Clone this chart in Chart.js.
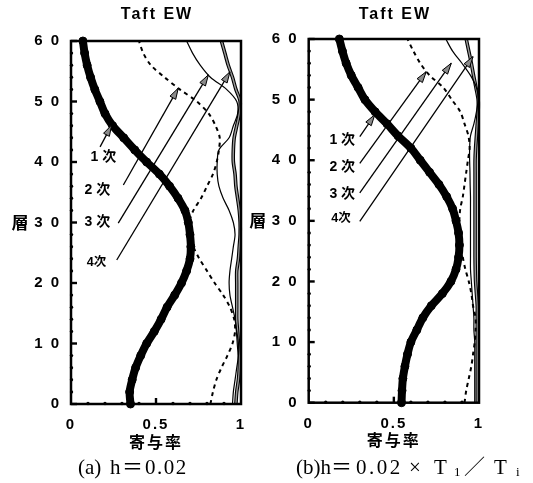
<!DOCTYPE html>
<html><head><meta charset="utf-8">
<script src="https://cdn.jsdelivr.net/npm/chart.js@4.4.1/dist/chart.umd.min.js"></script>
<style>
html,body{margin:0;padding:0;background:#fff;}
#wrap{position:relative;width:533px;height:483px;overflow:hidden;background:#fff;}
canvas{position:absolute;top:0;}
#ca{left:0;} #cb{left:245px;}
</style></head><body>
<div id="wrap"><canvas id="ca" width="250" height="483"></canvas><canvas id="cb" width="288" height="483"></canvas></div>
<script>
// ---------- data ----------
const layers = [0,2,4,6,8,10,12,14,16,18,20,22,24,26,28,30,32,34,36,38,40,42,44,46,48,50,52,54,56,58,60];
const yTickLabels = ['0','1 0','2 0','3 0','4 0','5 0','6 0'];
const xTickLabels = ['0','0.5','1'];
const modeLabels = ['1 次','2 次','3 次','4次'];

// (a) h = 0.02  : cumulative contribution up to mode 1..4
const mode1A = [0.35,0.345,0.36,0.38,0.41,0.445,0.49,0.53,0.565,0.61,0.65,0.68,0.70,0.705,0.70,0.69,0.67,0.63,0.58,0.52,0.445,0.375,0.31,0.245,0.20,0.17,0.14,0.115,0.095,0.08,0.07];
const mode2A = [0.82,0.835,0.855,0.885,0.92,0.95,0.965,0.96,0.935,0.895,0.845,0.80,0.755,0.72,0.70,0.695,0.72,0.765,0.80,0.835,0.857,0.87,0.875,0.85,0.81,0.74,0.64,0.55,0.47,0.425,0.40];
const mode3A = [0.95,0.955,0.965,0.975,0.985,0.985,0.975,0.965,0.95,0.935,0.93,0.935,0.945,0.955,0.965,0.955,0.93,0.895,0.87,0.86,0.86,0.87,0.93,0.955,0.98,0.975,0.915,0.82,0.76,0.715,0.68];
const mode4A = [0.97,0.975,0.985,0.99,0.99,0.985,0.98,0.975,0.975,0.975,0.975,0.975,0.985,0.99,0.995,0.995,0.99,0.98,0.97,0.965,0.955,0.955,0.96,0.975,0.99,0.995,0.97,0.95,0.925,0.905,0.885];

// (b) h = 0.02 x T1/Ti
const mode1B = [0.545,0.548,0.553,0.565,0.58,0.60,0.635,0.67,0.72,0.785,0.835,0.865,0.88,0.885,0.88,0.865,0.845,0.81,0.765,0.71,0.655,0.60,0.525,0.46,0.39,0.33,0.29,0.25,0.22,0.198,0.18];
const mode2B = [0.915,0.925,0.94,0.955,0.965,0.975,0.98,0.98,0.965,0.955,0.94,0.92,0.905,0.895,0.89,0.885,0.89,0.905,0.915,0.925,0.935,0.945,0.938,0.915,0.89,0.84,0.79,0.71,0.655,0.615,0.58];
const mode3B = [0.975,0.975,0.975,0.975,0.975,0.975,0.97,0.97,0.965,0.96,0.955,0.95,0.95,0.95,0.95,0.95,0.95,0.95,0.948,0.947,0.945,0.945,0.95,0.97,0.985,0.995,0.985,0.95,0.90,0.845,0.805];
const mode4B = [0.99,0.99,0.99,0.99,0.99,0.99,0.99,0.99,0.99,0.985,0.98,0.978,0.977,0.977,0.977,0.977,0.977,0.977,0.977,0.977,0.977,0.98,0.985,0.99,0.995,0.995,0.982,0.968,0.955,0.94,0.925];

// annotation arrows (data coords: [contribution, layer])
const arrowTailA = [[0.171,42.5],[0.308,36.2],[0.278,29.9],[0.269,23.8]];
const arrowHeadA = [[0.239,46.1],[0.631,52.2],[0.808,54.4],[0.935,54.9]];
const labelPosA  = [[0.19,40.8],[0.155,35.4],[0.155,30.1],[0.15,23.3]];
const arrowTailB = [[0.30,43.9],[0.30,39.5],[0.30,34.6],[0.30,29.9]];
const arrowHeadB = [[0.388,47.5],[0.69,54.6],[0.837,56.0],[0.965,57.1]];
const labelPosB  = [[0.197,43.3],[0.197,38.9],[0.197,34.4],[0.19,30.4]];

// ---------- helpers ----------
const pts = vals => vals.map((v,i)=>({x:v, y:layers[i]}));

function drawArrow(ctx,x1,y1,x2,y2){
  ctx.beginPath(); ctx.moveTo(x1,y1); ctx.lineTo(x2,y2);
  ctx.lineWidth=1.3; ctx.strokeStyle='#000'; ctx.stroke();
  const a=Math.atan2(y2-y1,x2-x1), L=11, W=3.3;
  const bx=x2-L*Math.cos(a), by=y2-L*Math.sin(a);
  const px=-Math.sin(a)*W, py=Math.cos(a)*W;
  ctx.beginPath(); ctx.moveTo(x2,y2); ctx.lineTo(bx+px,by+py); ctx.lineTo(bx-px,by-py); ctx.closePath();
  ctx.fillStyle='#8a8a8a'; ctx.fill(); ctx.lineWidth=1; ctx.stroke();
}

const overlay = {
  id:'overlay',
  beforeDraw(chart){ chart.ctx.letterSpacing='2px'; },
  beforeDatasetsDraw(chart){ chart.ctx.letterSpacing='0px'; },
  afterDatasetsDraw(chart, args, o){
    const ctx=chart.ctx, ca=chart.chartArea, xs=chart.scales.x, ys=chart.scales.y;
    ctx.save();
    ctx.letterSpacing='0px';
    // frame
    ctx.strokeStyle='#000'; ctx.lineWidth=2.5;
    ctx.strokeRect(ca.left, ca.top, ca.right-ca.left, ca.bottom-ca.top);
    // inner ticks (major) and small dots (minor)
    ctx.fillStyle='#000';
    for(let v=ys.min; v<=ys.max; v+=2){
      const y=ys.getPixelForValue(v);
      if(v%10===0){ ctx.fillRect(ca.left, y-1.2, 6, 2.4); }
      else { ctx.beginPath(); ctx.arc(ca.left+0.5, y, 1.7, 0, Math.PI*2); ctx.fill(); }
    }
    for(let k=1;k<10;k++){
      const v=xs.min+(xs.max-xs.min)*k/10, x=xs.getPixelForValue(v);
      if(k===5){ ctx.fillRect(x-1.2, ca.bottom-6, 2.4, 6); }
      else { ctx.beginPath(); ctx.arc(x, ca.bottom-0.5, 1.7, 0, Math.PI*2); ctx.fill(); }
    }
    // arrows + labels
    for(let i=0;i<o.tails.length;i++){
      drawArrow(ctx, xs.getPixelForValue(o.tails[i][0]), ys.getPixelForValue(o.tails[i][1]),
                     xs.getPixelForValue(o.heads[i][0]), ys.getPixelForValue(o.heads[i][1]));
      ctx.fillStyle='#000'; ctx.textAlign='center'; ctx.textBaseline='middle';
      ctx.font = (i===3?'bold 12.5px':'bold 14px')+' "Liberation Sans","Noto Sans CJK JP",sans-serif';
      ctx.fillText(modeLabels[i], xs.getPixelForValue(o.labels[i][0]), ys.getPixelForValue(o.labels[i][1]));
    }
    // title
    ctx.font='bold 16px "Liberation Sans",Arial,sans-serif';
    ctx.letterSpacing='2px';
    ctx.textAlign='center'; ctx.textBaseline='middle';
    ctx.fillText(o.title, (ca.left+ca.right)/2+1, 15);
    ctx.letterSpacing='0px';
    // y axis title
    ctx.font='bold 17px "Noto Sans CJK JP",sans-serif';
    ctx.fillText('層', ca.left-51, (ca.top+ca.bottom)/2);
    // caption
    ctx.textAlign='left'; ctx.textBaseline='middle';
    const cx0 = ca.left + o.capDx;
    for(const p of o.caption){
      ctx.font = p.sub ? '13px "Liberation Serif",serif' : '21px "Liberation Serif","Noto Sans CJK JP",serif';
      ctx.letterSpacing = (p.ls||0)+'px';
      ctx.fillText(p.t, cx0+p.dx, 468 + (p.sub?5:0));
    }
    ctx.letterSpacing='0px';
    ctx.restore();
  }
};

function makePanel(id, m1, m2, m3, m4, opt){
  const tickFont={family:'"Liberation Sans",Arial,sans-serif', size:15, weight:'bold'};
  return new Chart(document.getElementById(id), {
    type:'scatter',
    data:{datasets:[
      {data:pts(m1), showLine:true, borderColor:'#000', borderWidth:8, tension:0.3,
       pointRadius:4, pointBackgroundColor:'#000', pointBorderColor:'#000', pointBorderWidth:1, clip:false},
      {data:pts(m2), showLine:true, borderColor:'#000', borderWidth:2, borderDash:[4,4], tension:0.3, pointRadius:0, clip:false},
      {data:pts(m3), showLine:true, borderColor:'#000', borderWidth:1.2, tension:0.3, pointRadius:0, clip:false},
      {data:pts(m4), showLine:true, borderColor:'#9a9a9a', borderWidth:1.4, tension:0.3, pointRadius:0, clip:false},
      {data:pts(m4), showLine:true, borderColor:'#000', borderWidth:3.6, tension:0.3, pointRadius:0, clip:false}
    ]},
    options:{
      responsive:false, animation:false, devicePixelRatio:1,
      layout:{padding:{left:0,right:opt.padRight,top:opt.padTop,bottom:0}},
      plugins:{legend:{display:false}, tooltip:{enabled:false}, overlay:opt.overlay},
      scales:{
        x:{type:'linear', min:0, max:1, grid:{display:false}, border:{display:false},
           ticks:{stepSize:0.5, padding:4, color:'#000', font:tickFont, maxRotation:0,
                  callback:(v,i)=>xTickLabels[i]},
           title:{display:true, text:'寄与率', color:'#000',
                  font:{family:'"Noto Sans CJK JP",sans-serif', size:16, weight:'bold'},
                  padding:{top:0,bottom:opt.xTitlePad}},
           afterFit:s=>{s.height=opt.xHeight;}},
        y:{type:'linear', min:0, max:60, grid:{display:false}, border:{display:false},
           ticks:{stepSize:10, padding:2, color:'#000', font:tickFont, callback:(v,i)=>yTickLabels[i]},
           afterFit:s=>{s.width=opt.yWidth;}}
      }
    },
    plugins:[overlay]
  });
}

makePanel('ca', mode1A, mode2A, mode3A, mode4A, {
  padRight:9, padTop:41, xHeight:79, yWidth:71, xTitlePad:31.7,
  overlay:{title:'Taft EW', tails:arrowTailA, heads:arrowHeadA, labels:labelPosA, capDx:7,
    caption:[{t:'(a)',dx:0},{t:'h',dx:32},{t:'＝',dx:44},{t:'0.02',dx:67,ls:1.5}]}
});
makePanel('cb', mode1B, mode2B, mode3B, mode4B, {
  padRight:54, padTop:39, xHeight:80.3, yWidth:63.7, xTitlePad:33,
  overlay:{title:'Taft EW', tails:arrowTailB, heads:arrowHeadB, labels:labelPosB, capDx:-12.7,
    caption:[{t:'(b)h',dx:0},{t:'＝',dx:35},{t:'0.02',dx:60,ls:2.5},{t:'×',dx:113},{t:'T',dx:138},
             {t:'1',dx:158,sub:true},{t:'／',dx:168},{t:'T',dx:198},{t:'i',dx:220,sub:true}]}
});
</script>
</body></html>
